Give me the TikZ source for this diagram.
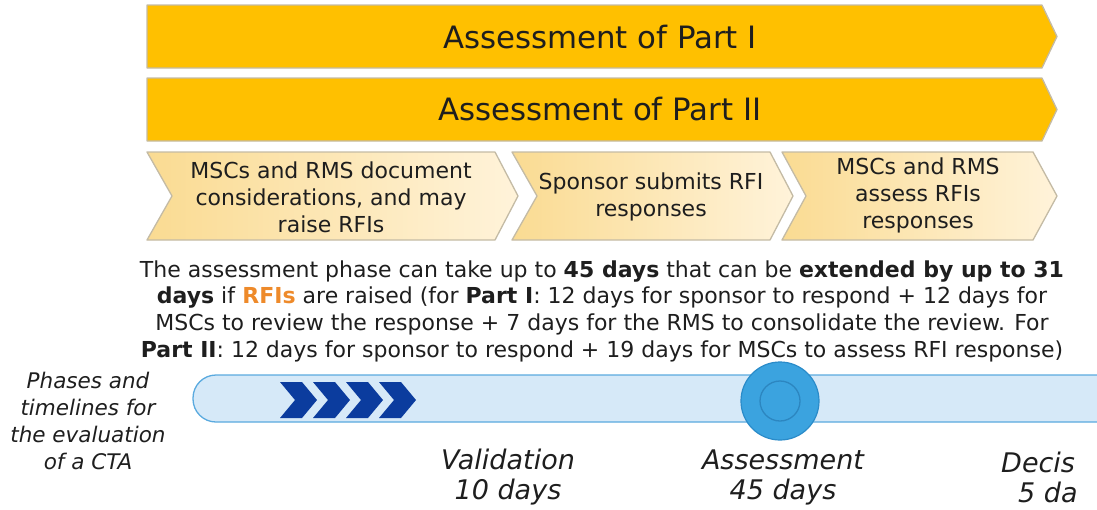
\documentclass[tikz,border=0pt]{standalone}
\usepackage{fontspec}
\setmainfont{DejaVu Sans}
\definecolor{gold}{HTML}{FFC000}
\definecolor{edgegray}{HTML}{C4BBA5}
\definecolor{chevleft}{HTML}{FADB92}
\definecolor{chevright}{HTML}{FFF3DA}
\definecolor{ink}{HTML}{1E1E1E}
\definecolor{rfiorange}{HTML}{EE8A2A}
\definecolor{barfill}{HTML}{D6E9F8}
\definecolor{barline}{HTML}{5AAADF}
\definecolor{navy}{HTML}{0B3C9E}
\definecolor{dotfill}{HTML}{3BA3DF}
\definecolor{dotline}{HTML}{2A8BC9}
\definecolor{dotring}{HTML}{2C86C0}
\begin{document}
\begin{tikzpicture}[x=1pt,y=-1pt,
  bigarrow/.style={fill=gold,draw=edgegray,line width=1.3pt,line join=round},
  chevbox/.style={left color=chevleft,right color=chevright,draw=edgegray,line width=1.3pt,line join=round},
  bigtext/.style={text=ink,font=\fontsize{30.8}{36}\selectfont},
  chevtext/.style={text=ink,align=center,font=\fontsize{22}{27}\selectfont},
  phase/.style={text=ink,align=center,font=\fontsize{27}{30}\selectfont\itshape}]
  \useasboundingbox (0,0) rectangle (1097,509);
  \draw[bigarrow] (147,5) -- (1042,5) -- (1057,36.5) -- (1042,68) -- (147,68) -- cycle;
  \draw[bigarrow] (147,78) -- (1042,78) -- (1057,109.5) -- (1042,141) -- (147,141) -- cycle;
  \node[bigtext] at (600,37) (part1) {Assessment of Part I};
  \node[bigtext] at (600,109) (part2) {Assessment of Part II};
  \draw[chevbox] (147,152) -- (495,152) -- (518,196) -- (495,240) -- (147,240) -- (172,196) -- cycle;
  \draw[chevbox] (512,152) -- (770,152) -- (793,196) -- (770,240) -- (512,240) -- (537,196) -- cycle;
  \draw[chevbox] (782,152) -- (1033,152) -- (1057,196) -- (1033,240) -- (782,240) -- (806,196) -- cycle;
  \node[chevtext] at (331,197) (raise) {MSCs and RMS document\\considerations, and may\\raise RFIs};
  \node[chevtext] at (651,197) (submit) {Sponsor submits RFI\\responses};
  \node[chevtext] at (918,195) (assess) {MSCs and RMS\\assess RFIs\\responses};
  \node[text=ink,align=center,font=\fontsize{22}{26.7}\selectfont] at (602,311) (note)
    {The assessment phase can take up to \textbf{45 days} that can be \textbf{extended by up to 31}\\
     \textbf{days} if \textbf{\color{rfiorange}RFIs} are raised (for \textbf{Part I}: 12 days for sponsor to respond + 12 days for\\
     MSCs to review the response + 7 days for the RMS to consolidate the review. For\\
     \textbf{Part II}: 12 days for sponsor to respond + 19 days for MSCs to assess RFI response)};
  \node[text=ink,align=center,font=\fontsize{21.5}{27}\selectfont\itshape] at (88,421) (caption)
    {Phases and\\timelines for\\the evaluation\\of a CTA};
  \draw[fill=barfill,draw=barline,line width=1.3pt,rounded corners=23pt] (193,375) rectangle (1130,422);
  \foreach \i in {0,...,3}
    \fill[navy] ({280+33*\i},382) -- ++(22,0) -- ++(15,18) -- ++(-15,18) -- ++(-22,0) -- ++(15,-18) -- cycle;
  \node[circle,minimum size=78pt,inner sep=0pt,fill=dotfill,draw=dotline,line width=1.2pt] at (780,401) (dot) {};
  \node[circle,minimum size=40pt,inner sep=0pt,draw=dotring,line width=1.3pt] at (dot.center) (ring) {};
  \node[phase] at (508,477) (valid) {Validation\\10 days};
  \node[phase] at (783,477) (assessment) {Assessment\\45 days};
  \node[phase,anchor=west,inner sep=0pt] at (1001,462) (decision) {Decis};
  \node[phase,anchor=west,inner sep=0pt] at (1018,492) (decisiondays) {5 da};
\end{tikzpicture}
\end{document}
